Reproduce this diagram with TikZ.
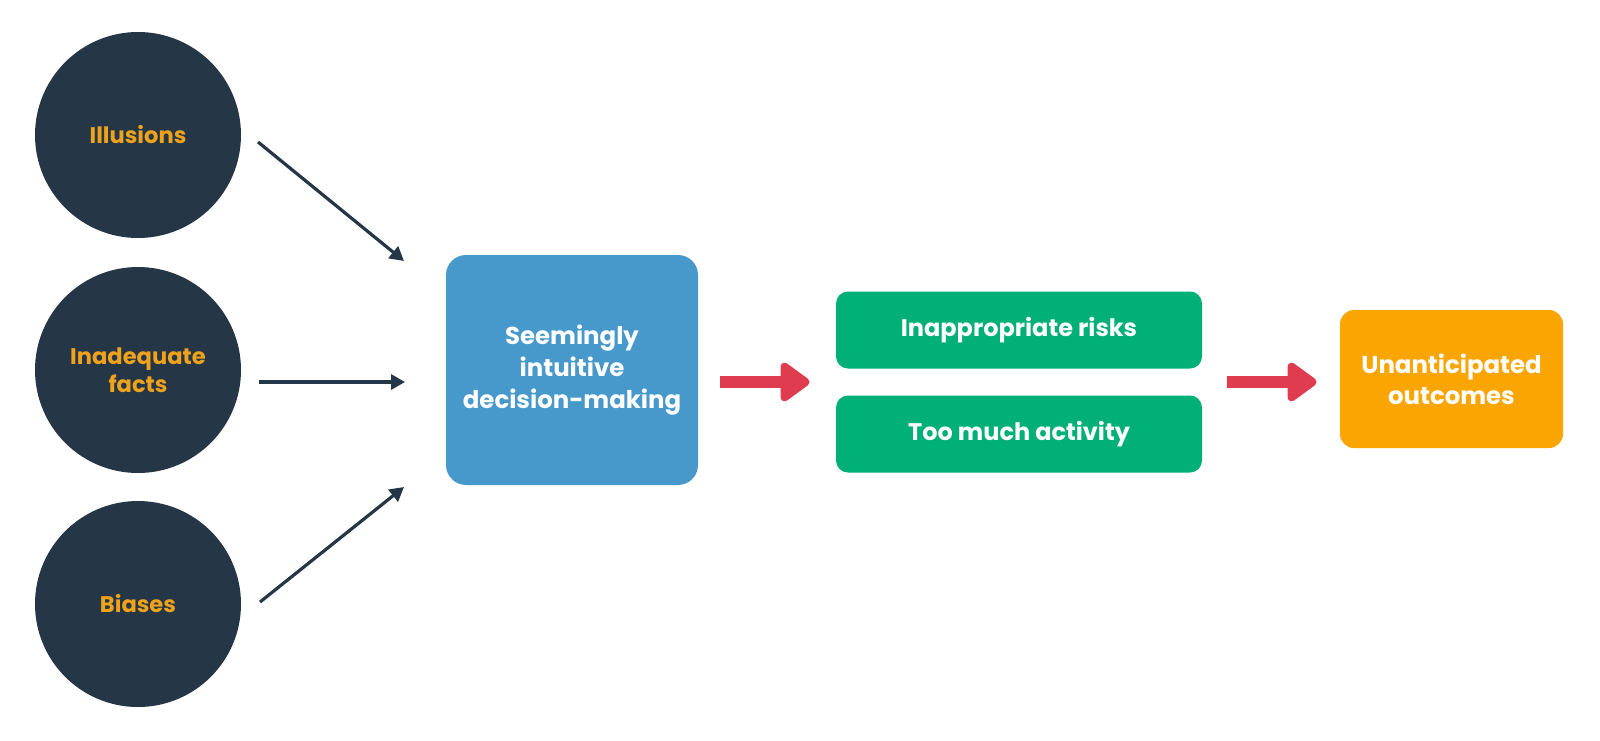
\documentclass[tikz,border=0pt]{standalone}
\usepackage{fontspec}
\setmainfont{Poppins}
\usetikzlibrary{arrows.meta,calc}
\definecolor{navy}{HTML}{253646}
\definecolor{gold}{HTML}{EFA21C}
\definecolor{bluebox}{HTML}{4899CB}
\definecolor{greenbox}{HTML}{00B077}
\definecolor{orangebox}{HTML}{FBA503}
\definecolor{redarrow}{HTML}{E03C50}
\tikzset{
  circ/.style={circle, fill=navy, minimum size=103pt, inner sep=0pt, text=gold, font=\bfseries\fontsize{11.3}{13.8}\selectfont, align=center},
  blubox/.style={rectangle, fill=bluebox, rounded corners=10pt, minimum width=126pt, minimum height=115pt, text=white, font=\bfseries\fontsize{12.2}{16}\selectfont, align=center},
  grnbox/.style={rectangle, fill=greenbox, rounded corners=6pt, minimum width=183pt, minimum height=38.5pt, text=white, font=\bfseries\fontsize{12}{14}\selectfont, align=center},
  orgbox/.style={rectangle, fill=orangebox, rounded corners=7pt, minimum width=111.5pt, minimum height=69pt, text=white, font=\bfseries\fontsize{12.2}{15.5}\selectfont, align=center},
  darr/.style={draw=navy, line width=1.6pt, -{Triangle[length=7pt,width=7.5pt]}},
  rarr/.style={draw=redarrow, line width=6pt, -{Triangle[length=16pt,width=22pt,round]}}
}
\begin{document}
\begin{tikzpicture}[x=0.5pt,y=-0.5pt]
\useasboundingbox[fill=white] (0,0) rectangle (1600,740);
\node[circ] (ill) at (138,135) {Illusions};
\node[circ] (ina) at (138,370) {Inadequate\\facts};
\node[circ] (bia) at (138,604) {Biases};
\node[blubox] (sid) at (572,370) {Seemingly\\intuitive\\decision-making};
\node[grnbox] (ir) at (1019,330) {Inappropriate risks};
\node[grnbox] (tma) at (1019,434) {Too much activity};
\node[orgbox] (uo) at (1451.5,379) {Unanticipated\\outcomes};
\coordinate (a1s) at (258,142);
\coordinate (a1e) at (404,261);
\coordinate (a2s) at (259,382);
\coordinate (a2e) at (405,382);
\coordinate (a3s) at (260,602);
\coordinate (a3e) at (404,487);
\draw[darr] (a1s) -- (a1e);
\draw[darr] (a2s) -- (a2e);
\draw[darr] (a3s) -- (a3e);
\coordinate (gmid) at ($(ir.south west)!0.5!(tma.north west)$);
\draw[rarr, shorten <=11pt, shorten >=13pt] (sid.east |- gmid) -- (gmid);
\draw[rarr, shorten <=12.5pt, shorten >=11.5pt] (gmid -| ir.east) -- (gmid -| uo.west);
\end{tikzpicture}
\end{document}
